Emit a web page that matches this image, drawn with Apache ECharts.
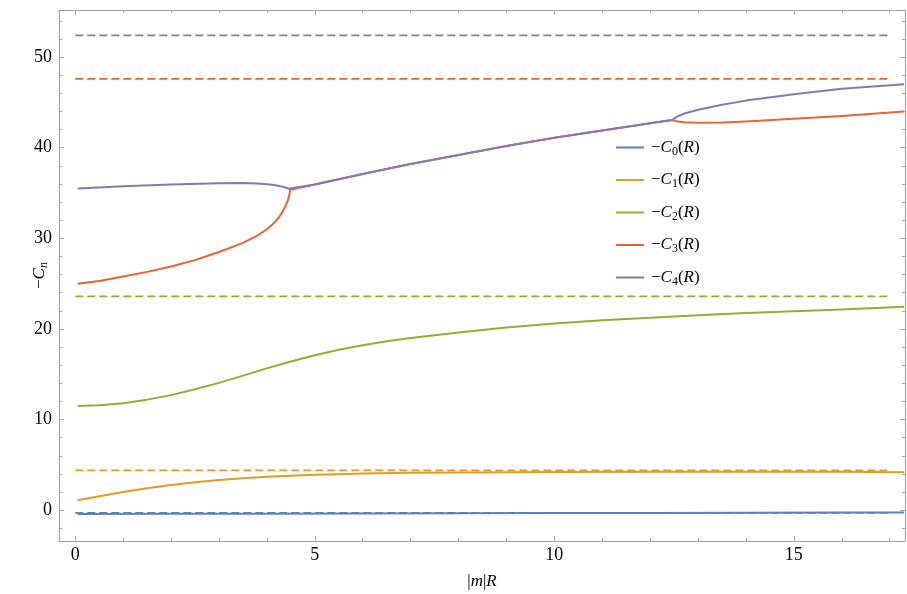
<!DOCTYPE html>
<html><head><meta charset="utf-8">
<script src="https://cdn.jsdelivr.net/npm/echarts@6/dist/echarts.min.js"></script>
<style>html,body{margin:0;padding:0;background:#fff}#c{width:907px;height:594px}</style>
</head><body><div id="c"></div>
<script>
// ---- data ----
const seriesNames = ['C0', 'C1', 'C2', 'C3', 'C4'];
const colors = ['#5E81B5', '#E19C24', '#8FB032', '#EB6235', '#8778B3'];

const xC0 = [0.05, 2, 4, 6, 8, 10, 12, 14, 16, 17.3];
const yC0 = [-0.42, -0.4, -0.38, -0.36, -0.34, -0.32, -0.3, -0.28, -0.26, -0.25];

const xC1 = [0.05, 0.5, 1, 1.5, 2, 2.5, 3, 3.5, 4, 4.5, 5, 5.5, 6, 7, 8, 10, 12, 14, 16, 17.3];
const yC1 = [1.1, 1.55, 2.0, 2.42, 2.78, 3.08, 3.33, 3.53, 3.68, 3.8, 3.9, 3.98, 4.04, 4.12, 4.17, 4.22, 4.25, 4.25, 4.23, 4.2];

const xC2 = [0.05, 0.5, 1, 1.5, 2, 2.5, 3, 3.5, 4, 4.5, 5, 5.5, 6, 6.5, 7, 8, 9, 10, 11, 12, 13, 14, 15, 16, 17.3];
const yC2 = [11.5, 11.58, 11.8, 12.2, 12.7, 13.35, 14.05, 14.85, 15.65, 16.4, 17.1, 17.7, 18.2, 18.65, 19.0, 19.6, 20.15, 20.6, 20.95, 21.25, 21.5, 21.75, 21.95, 22.15, 22.45];

const xC3 = [0.05, 0.5, 1, 1.5, 2, 2.5, 3, 3.5, 3.8, 4, 4.15, 4.25, 4.33, 4.4, 4.45, 4.49, 5, 6, 7, 8, 9, 10, 11, 12, 12.46, 12.55, 12.7, 13, 13.5, 14, 15, 16, 17.3];
const yC3 = [25.0, 25.3, 25.8, 26.3, 26.9, 27.6, 28.5, 29.5, 30.3, 31.0, 31.7, 32.3, 32.95, 33.7, 34.4, 35.35, 35.95, 37.1, 38.2, 39.2, 40.2, 41.1, 41.9, 42.7, 43.05, 42.92, 42.82, 42.75, 42.78, 42.9, 43.2, 43.5, 44.0];

const xC4 = [0.05, 1, 2, 3, 3.5, 3.8, 4, 4.15, 4.3, 4.4, 4.45, 4.49, 5, 6, 7, 8, 9, 10, 11, 12, 12.46, 12.55, 12.7, 13, 13.5, 14, 15, 16, 17.3];
const yC4 = [35.5, 35.75, 35.95, 36.08, 36.1, 36.06, 35.98, 35.88, 35.72, 35.58, 35.48, 35.35, 35.95, 37.1, 38.2, 39.2, 40.2, 41.1, 41.9, 42.7, 43.05, 43.4, 43.75, 44.2, 44.75, 45.2, 45.9, 46.5, 47.0];

const asymptotes = [-0.3, 4.4, 23.6, 47.6, 52.4];
const asymX = [0, 17.0];

const xTicks = [0, 5, 10, 15];
const yTicks = [0, 10, 20, 30, 40, 50];
// ---- end data ----

const xs = [xC0, xC1, xC2, xC3, xC4];
const ys = [yC0, yC1, yC2, yC3, yC4];
const font = '"Liberation Serif", "DejaVu Serif", serif';
const frameColor = '#a6a6a6';

const sub = {
  n: {fontFamily: font, fontSize: 17, color: '#000'},
  i: {fontFamily: font, fontSize: 17, fontStyle: 'italic', color: '#000'},
  s: {fontFamily: font, fontSize: 12, color: '#000', padding: [8, 0, 0, 0]},
  si: {fontFamily: font, fontSize: 12, fontStyle: 'italic', color: '#000', padding: [8, 0, 0, 0]}
};

const series = [];
for (let k = 0; k < 5; k++) {
  series.push({
    type: 'line', name: '-C' + k + '(R)', data: asymX.map(x => [x, asymptotes[k]]),
    symbol: 'none', silent: true, z: 2,
    lineStyle: {color: colors[k], width: 1.8, type: [8, 4]}, itemStyle: {color: colors[k]}
  });
}
for (let k = 0; k < 5; k++) {
  series.push({
    type: 'line', name: 'C' + k, data: xs[k].map((x, i) => [x, ys[k][i]]),
    symbol: 'none', smooth: false, z: 3 + k,
    lineStyle: {color: colors[k], width: 2, join: 'round'}, itemStyle: {color: colors[k]}
  });
}

function mkX(pos, show) {
  return {
    type: 'value', position: pos, min: -0.34, max: 17.32, splitNumber: 4,
    axisLine: {show: true, onZero: false, lineStyle: {color: frameColor, width: 1.2}},
    axisTick: {show: true, inside: true, length: 5, lineStyle: {color: frameColor}},
    minorTick: {show: true, splitNumber: 5, length: 3, lineStyle: {color: frameColor}},
    axisLabel: {show: show, showMinLabel: false, showMaxLabel: false, fontFamily: font, fontSize: 18, color: '#000', margin: 5},
    splitLine: {show: false},
    name: show ? '|{i|m}|{i|R}' : '', nameLocation: 'middle', nameGap: 32, nameMoveOverlap: false,
    nameTextStyle: {fontFamily: font, fontSize: 17, color: '#000', rich: sub}
  };
}
function mkY(pos, show) {
  return {
    type: 'value', position: pos, min: -3.4, max: 55.2, splitNumber: 6,
    axisLine: {show: true, onZero: false, lineStyle: {color: frameColor, width: 1.2}},
    axisTick: {show: true, inside: true, length: 5, lineStyle: {color: frameColor}},
    minorTick: {show: true, splitNumber: 5, length: 3, lineStyle: {color: frameColor}},
    axisLabel: {show: show, showMinLabel: false, showMaxLabel: false, fontFamily: font, fontSize: 18, color: '#000', margin: 7},
    splitLine: {show: false},
    name: show ? '−{i|C}{si|n}' : '', nameLocation: 'middle', nameGap: 9, nameRotate: 90, nameMoveOverlap: false,
    nameTextStyle: {fontFamily: font, fontSize: 17, color: '#000', rich: sub}
  };
}

const chart = echarts.init(document.getElementById('c'), null, {renderer: 'canvas'});
chart.setOption({
  animation: false,
  backgroundColor: '#fff',
  grid: {left: 59, right: 2, top: 10, bottom: 53, containLabel: false, outerBoundsMode: 'none'},
  xAxis: [mkX('bottom', true), mkX('top', false)],
  yAxis: [mkY('left', true), mkY('right', false)],
  legend: {
    data: ['C0', 'C1', 'C2', 'C3', 'C4'],
    orient: 'vertical', left: 611, top: 134, itemWidth: 28, itemHeight: 10, itemGap: 14,
    icon: 'path://M0,4 L28,4 L28,6 L0,6 Z',
    formatter: n => '−{i|C}{s|' + n.slice(1) + '}({i|R})',
    textStyle: {fontFamily: font, fontSize: 17, color: '#000', rich: sub, padding: [0, 0, 0, 2]}
  },
  series: series
});
</script>
</body></html>
